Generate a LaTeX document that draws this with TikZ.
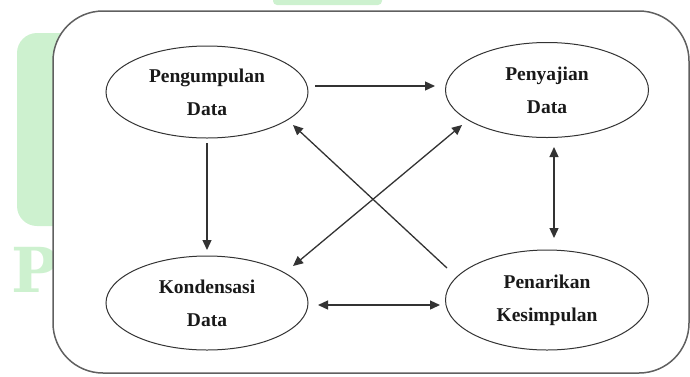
\documentclass[tikz,border=0pt]{standalone}
\usepackage{fontspec}
\setmainfont{Liberation Serif}
\newfontfamily\wmfont{DejaVu Serif}
\usetikzlibrary{arrows.meta,calc,shapes.geometric}
\definecolor{wm}{HTML}{CDF1CF}
\definecolor{ln}{HTML}{333333}
\definecolor{fr}{HTML}{606060}
\tikzset{
  proc/.style={ellipse,draw=ln,line width=1pt,inner sep=0pt,align=center,
    font=\fontsize{19.5}{33}\selectfont\bfseries,text=black!90},
  arr/.style={draw=ln,line width=1.3pt,-{Triangle[length=10pt,width=9pt]}},
  darr/.style={draw=ln,line width=1.3pt,{Triangle[length=10pt,width=9pt]}-{Triangle[length=10pt,width=9pt]}},
}
\begin{document}
\begin{tikzpicture}[x=1pt,y=-1pt]
\useasboundingbox (0,0) rectangle (690,376);
% watermark pieces
\fill[wm,rounded corners=4pt] (273,-10) rectangle (382,5);
\fill[wm,rounded corners=20pt] (17,33) rectangle (90,226);
\node[text=wm,font=\wmfont\fontsize{62}{62}\selectfont\bfseries,anchor=base west,inner sep=0pt] (wmP) at (11,292) {P};
% frame
\draw[fr,line width=1.5pt,fill=white,rounded corners=50pt] (53,11) rectangle (689,373);
% nodes
\node[proc,minimum width=202pt,minimum height=92pt] (pg) at (207,92) {Pengumpulan\\Data};
\node[proc,minimum width=203pt,minimum height=95pt] (py) at (547,90) {Penyajian\\Data};
\node[proc,minimum width=202pt,minimum height=94pt] (pk) at (207,303) {Kondensasi\\Data};
\node[proc,minimum width=203pt,minimum height=100pt] (pt) at (547,300) {Penarikan\\Kesimpulan};
% connectors
\draw[arr] ($(pg.center)+(108,-6)$) -- ($(py.center)+(-112,-4)$);
\draw[arr] ($(pg.center)+(0,51)$) -- ($(pk.center)+(0,-53)$);
\draw[arr] ($(pt.center)+(-100,-32)$) -- ($(pg.center)+(86,33)$);
\draw[darr] ($(pk.center)+(86,-37)$) -- ($(py.center)+(-85,35)$);
\draw[darr] ($(pk.center)+(111,2)$) -- ($(pt.center)+(-107,5)$);
\draw[darr] ($(py.center)+(7,57)$) -- ($(pt.center)+(7,-62)$);
\end{tikzpicture}
\end{document}
